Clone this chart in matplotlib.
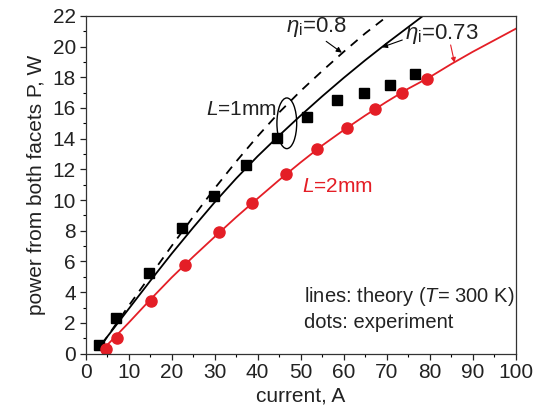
import matplotlib
matplotlib.use('Agg')
import matplotlib.pyplot as plt
from matplotlib.patches import Ellipse
from matplotlib.ticker import MultipleLocator

plt.rcParams['font.family'] = ['Liberation Sans', 'DejaVu Sans']
plt.rcParams['mathtext.fontset'] = 'custom'
plt.rcParams['mathtext.rm'] = 'Liberation Sans'
plt.rcParams['mathtext.it'] = 'Liberation Sans:italic'

red = '#e41e26'

# experiment, L = 1 mm (black squares)
cur_1mm = [3.1, 7.1, 14.8, 22.4, 29.8, 37.3, 44.6, 51.6, 58.5, 64.8, 70.9, 76.7]
pow_1mm = [0.55, 2.34, 5.27, 8.16, 10.25, 12.3, 14.05, 15.42, 16.5, 17.0, 17.5, 18.2]

# experiment, L = 2 mm (red dots)
cur_2mm = [4.7, 7.3, 15.2, 23.2, 31.1, 38.7, 46.6, 53.9, 60.8, 67.3, 73.6, 79.4]
pow_2mm = [0.29, 0.99, 3.42, 5.77, 7.9, 9.8, 11.7, 13.3, 14.7, 15.9, 17.0, 17.9]

# theory, L = 1 mm, eta_i = 0.73 (solid black)
th_x_073 = [3.4, 10, 15, 20, 25, 30, 35, 40, 45, 50, 55, 60, 65, 70, 78.5]
th_y_073 = [0.5, 2.9, 4.72, 6.5, 8.2, 9.85, 11.4, 12.85, 14.2, 15.5, 16.75, 17.95, 19.1, 20.2, 22.0]

# theory, L = 1 mm, eta_i = 0.8 (dashed black)
th_x_08 = [3.8, 10, 15, 20, 25, 30, 35, 40, 45, 50, 55, 60, 65, 70.3]
th_y_08 = [0.6, 3.1, 5.05, 7.0, 8.9, 10.75, 12.5, 14.15, 15.7, 17.1, 18.4, 19.65, 20.85, 22.0]

# theory, L = 2 mm (solid red)
th_x_2mm = [3.8, 10, 15, 20, 25, 30, 35, 40, 45, 50, 55, 60, 65, 70, 75, 80, 85, 90, 95, 100]
th_y_2mm = [0.2, 2.0, 3.5, 4.95, 6.3, 7.6, 8.88, 10.1, 11.3, 12.45, 13.55, 14.55, 15.5, 16.4, 17.25, 18.0, 18.85, 19.65, 20.4, 21.15]

fig = plt.figure(figsize=(5.45, 4.16), dpi=100)
ax = fig.add_axes([0.157, 0.150, 0.789, 0.812])

ax.plot(th_x_08, th_y_08, color='black', lw=1.3, linestyle=(0, (5, 4)))
ax.plot(th_x_073, th_y_073, color='black', lw=1.3)
ax.plot(th_x_2mm, th_y_2mm, color=red, lw=1.3)
ax.plot(cur_1mm, pow_1mm, 's', color='black', ms=7, mec='black')
ax.plot(cur_2mm, pow_2mm, 'o', color=red, ms=8, mec=red)

ax.set_xlim(0, 100)
ax.set_ylim(0, 22)
ax.xaxis.set_major_locator(MultipleLocator(10))
ax.xaxis.set_minor_locator(MultipleLocator(5))
ax.yaxis.set_major_locator(MultipleLocator(2))
ax.yaxis.set_minor_locator(MultipleLocator(1))
ax.tick_params(which='major', direction='out', length=4, width=0.9, labelsize=15,
               colors='#222222', pad=3)
ax.tick_params(which='minor', direction='out', length=2.5, width=0.8)
for s in ax.spines.values():
    s.set_linewidth(0.9)
    s.set_color('#333333')

ax.set_xlabel('current, A', fontsize=15, color='#222222', labelpad=3)
ax.set_ylabel('power from both facets P, W', fontsize=15, color='#222222', labelpad=5)

# labels and arrows
ax.annotate(r'$\eta_{\rm i}$=0.8', xy=(59.6, 19.6), xytext=(46.5, 21.3),
            fontsize=16, color='#222222', va='center',
            arrowprops=dict(arrowstyle='-|>', color='black', lw=0.8, mutation_scale=8,
                            shrinkA=0, shrinkB=0, relpos=(0.6, 0.0)))
ax.annotate(r'$\eta_{\rm i}$=0.73', xy=(68.9, 19.95), xytext=(74.3, 20.8),
            fontsize=16, color='#222222', va='center',
            arrowprops=dict(arrowstyle='-|>', color='black', lw=0.8, mutation_scale=8,
                            shrinkA=0, shrinkB=0, relpos=(0.0, 0.3)))
ax.annotate('', xy=(85.8, 18.95), xytext=(84.9, 20.1),
            arrowprops=dict(arrowstyle='-|>', color=red, lw=0.8, mutation_scale=7,
                            shrinkA=0, shrinkB=0))

ax.text(28.0, 15.9, r'$L$=1mm', fontsize=15, color='#222222', va='center')
ax.add_patch(Ellipse((46.8, 15.0), 4.6, 3.3, fill=False, edgecolor='black', lw=1.0))
ax.text(50.3, 10.9, r'$L$=2mm', fontsize=15, color=red, va='center')

ax.text(50.8, 3.7, r'lines: theory ($T$= 300 K)', fontsize=14.5, color='#222222', va='center')
ax.text(50.8, 2.05, 'dots: experiment', fontsize=14.5, color='#222222', va='center')

fig.savefig('out.png', dpi=100)
